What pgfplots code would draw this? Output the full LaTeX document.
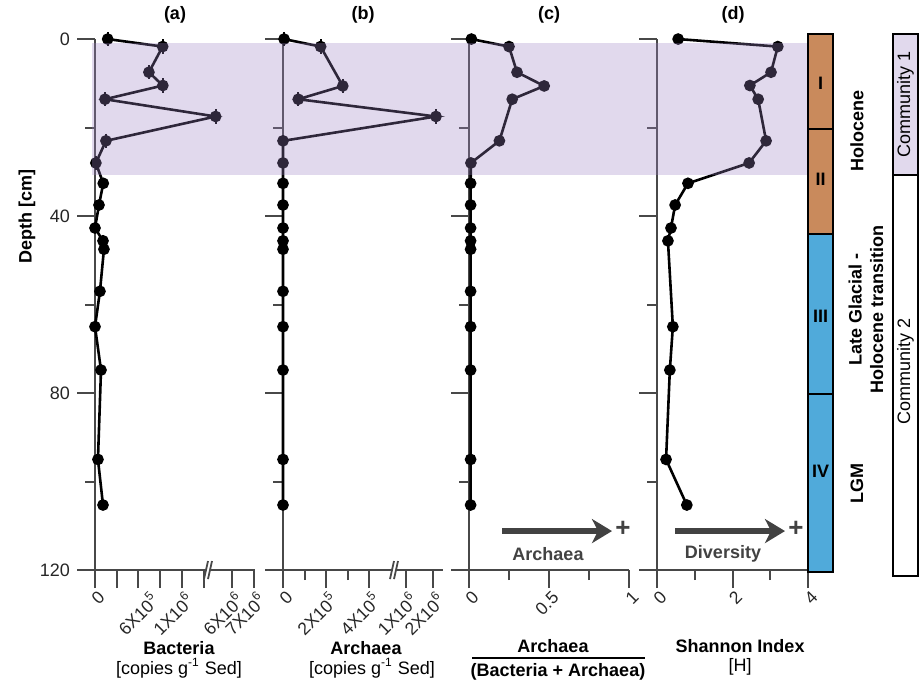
\documentclass[border=0pt]{standalone}
\usepackage{fontspec}
\setmainfont{Liberation Sans}
\usepackage{pgfplots}
\usepackage{pgfplotstable}
\pgfplotsset{compat=1.18}
\usetikzlibrary{arrows.meta}

\definecolor{zoneshade}{RGB}{155,130,195}
\definecolor{unitbrown}{RGB}{201,138,92}
\definecolor{unitblue}{RGB}{80,170,218}
\definecolor{arrowgray}{RGB}{66,66,66}
\definecolor{axisgray}{RGB}{72,72,72}

\newcommand{\lbl}{\fontsize{9}{10.8}\selectfont}
\newcommand{\tlbl}{\fontsize{8.8}{10.5}\selectfont}
\newcommand{\sci}[2]{#1X10\textsuperscript{#2}}

% Bacteria, 16S copies per g sediment, in units of 1e5
\pgfplotstableread{
depth  val
0      1.46
1.7    7.78
7.5    6.2
10.5   7.8
13.6   1.15
17.5   52.6
23     1.26
28     0.1
32.6   0.95
37.5   0.46
42.7   0.0
45.6   0.92
47.5   1.03
57     0.57
65     0.0
74.8   0.69
95     0.34
105.3  0.92
}\bacteria

% Archaea, copies per g sediment, in units of 1e5
\pgfplotstableread{
depth  val
0      0.05
1.7    1.75
10.6   2.78
13.6   0.71
17.5   21.1
23     0.0
28     0.0
32.6   0.0
37.5   0.0
42.7   0.0
45.6   0.0
47.5   0.0
57     0.0
65     0.0
74.8   0.0
95     0.0
105.3  0.0
}\archaea

% Archaea / (Bacteria + Archaea)
\pgfplotstableread{
depth  val
0      0.015
1.7    0.25
7.5    0.30
10.6   0.47
13.6   0.27
23     0.19
28     0.012
32.6   0.01
37.5   0.01
42.7   0.01
45.6   0.01
47.5   0.01
57     0.01
65     0.01
74.8   0.01
95     0.01
105.3  0.01
}\ratio

% Shannon diversity index H
\pgfplotstableread{
depth  val
0      0.56
1.7    3.20
7.5    3.02
10.5   2.46
13.6   2.68
23     2.89
28     2.44
32.6   0.82
37.5   0.48
42.7   0.37
45.6   0.29
65     0.42
74.8   0.34
95     0.24
105.3  0.79
}\shannon

\pgfplotsset{
  profile/.style={
    scale only axis, height=265.5pt, anchor=west,
    ymin=0, ymax=120, y dir=reverse,
    axis x line=bottom, axis y line=left,
    axis line style={axisgray, line width=1pt, -},
    ytick={0,40,80,120}, minor ytick={20,60,100}, yticklabels={},
    tick align=outside, major tick length=9pt, minor tick length=5pt,
    tick style={axisgray, line width=1pt},
    tick label style={font=\tlbl, text=black!85},
    yticklabel style={font=\lbl},
    xticklabel style={rotate=45, anchor=north east, inner sep=1pt, xshift=1.5pt},
    xticklabel shift=0.5pt,
    clip=false,
  },
  series/.style={black, line width=1.3pt, mark=*, mark size=2.25pt, mark options={solid}},
  caps/.style={only marks, black, mark=|, mark size=3.6pt, line width=1pt},
}

\begin{document}
\begin{tikzpicture}
\begin{scope}[x=0.5pt,y=-0.5pt]
\useasboundingbox (0,0) rectangle (921,681);
\end{scope}

% (a) Bacteria, broken x axis
\begin{axis}[profile, at={(47.5pt,-151.75pt)}, width=80pt,
  x coord trafo/.code={\pgfmathparse{((#1)<30)*8.7*(#1)+((#1)>30)*(137+2.2*((#1)-60))}},
  xmin=0, xmax=70.5,
  xtick={0,2.5,5,7.5,10,12.5,60,70},
  xticklabels={0,,,,\sci{1}{6},,\sci{6}{6},\sci{7}{6}},
  extra x ticks={6}, extra x tick labels={\sci{6}{5}},
  extra x tick style={major tick style={draw=none}},
  yticklabels={0,40,80,120},
  yticklabel style={anchor=east},
]
\addplot[caps, restrict y to domain=-1:29] table[x=val, y=depth] {\bacteria};
\addplot[series] table[x=val, y=depth] {\bacteria};
\end{axis}

% (b) Archaea, broken x axis
\begin{axis}[profile, at={(141.5pt,-151.75pt)}, width=80pt,
  x coord trafo/.code={\pgfmathparse{((#1)<7)*21.5*(#1)+((#1)>7)*(123+2.7*((#1)-10))}},
  xmin=0, xmax=23.7,
  xtick={0,2,4,10,20}, minor xtick={1,3},
  xticklabels={0,\sci{2}{5},\sci{4}{5},\sci{1}{6},\sci{2}{6}},
]
\addplot[caps, restrict y to domain=-1:18] table[x=val, y=depth] {\archaea};
\addplot[series] table[x=val, y=depth] {\archaea};
\end{axis}

% (c) archaeal fraction
\begin{axis}[profile, at={(234.5pt,-151.75pt)}, width=80pt,
  xmin=0, xmax=1, xtick={0,0.5,1}, minor xtick={0.25,0.75},
  xticklabels={0,0.5,1},
]
\addplot[series] table[x=val, y=depth] {\ratio};
\end{axis}

% (d) Shannon index
\begin{axis}[profile, at={(328.5pt,-151.75pt)}, width=75.5pt,
  xmin=0, xmax=4, xtick={0,2,4}, minor xtick={1,3},
  xticklabels={0,2,4},
]
\addplot[series] table[x=val, y=depth] {\shannon};
\end{axis}

\begin{scope}[x=0.5pt,y=-0.5pt]
% Holocene community zone
\fill[zoneshade, fill opacity=0.3] (92,41.5) rectangle (808,174);

% axis breaks
\foreach \bx in {208,394}{
  \fill[white] (\bx-4,578) -- (\bx,560) -- (\bx+4,560) -- (\bx,578) -- cycle;
  \draw[axisgray, line width=0.9pt] (\bx-4,578) -- (\bx,560) (\bx,578) -- (\bx+4,560);
}

% lithological units
\draw[line width=1pt, fill=unitbrown] (808,33) rectangle (833,128);
\draw[line width=1pt, fill=unitbrown] (808,128) rectangle (833,233);
\draw[line width=1pt, fill=unitblue] (808,233) rectangle (833,393);
\draw[line width=1pt, fill=unitblue] (808,393) rectangle (833,571);
\node[font=\lbl\bfseries] at (820.5,82) {I};
\node[font=\lbl\bfseries] at (820.5,178) {II};
\node[font=\lbl\bfseries] at (820.5,315) {III};
\node[font=\lbl\bfseries] at (820.5,470) {IV};

\node[rotate=90, font=\lbl\bfseries] at (857,130) {Holocene};
\node[rotate=90, font=\lbl\bfseries, align=center] at (866,308) {Late Glacial -\\Holocene transition};
\node[rotate=90, font=\lbl\bfseries] at (857,482) {LGM};

% communities
\draw[line width=1pt, fill=zoneshade!30] (893,33) rectangle (918,174);
\draw[line width=1pt, fill=white] (893,174) rectangle (918,575);
\node[rotate=90, font=\lbl] at (905.5,103) {Community 1};
\node[rotate=90, font=\lbl] at (905.5,370) {Community 2};

% panel titles
\node[font=\lbl\bfseries] at (175,14) {(a)};
\node[font=\lbl\bfseries] at (363,14) {(b)};
\node[font=\lbl\bfseries] at (549,14) {(c)};
\node[font=\lbl\bfseries] at (733,14) {(d)};

% axis titles
\node[rotate=90, font=\lbl\bfseries] at (27,215) {Depth [cm]};
\node[font=\lbl\bfseries] at (179,647) {Bacteria};
\node[font=\lbl] at (179,667) {[copies g\textsuperscript{-1} Sed]};
\node[font=\lbl\bfseries] at (366,647) {Archaea};
\node[font=\lbl] at (372,667) {[copies g\textsuperscript{-1} Sed]};
\node[font=\lbl\bfseries] at (553,645) {Archaea};
\draw[line width=0.9pt] (472,657) -- (645,657);
\node[font=\lbl\bfseries] at (558,671) {(Bacteria + Archaea)};
\node[font=\lbl\bfseries] at (740,645) {Shannon Index};
\node[font=\lbl] at (740,666) {[H]};

% direction arrows
\draw[arrowgray, line width=3.3pt, -{Stealth[length=10pt, width=12pt, inset=3pt]}] (502,530) -- (612,530);
\node[text=arrowgray, font=\fontsize{13}{14}\selectfont\bfseries] at (623,528) {+};
\node[text=arrowgray, font=\lbl\bfseries] at (548,553) {Archaea};
\draw[arrowgray, line width=3.3pt, -{Stealth[length=10pt, width=12pt, inset=3pt]}] (675,530) -- (785,530);
\node[text=arrowgray, font=\fontsize{13}{14}\selectfont\bfseries] at (796,528) {+};
\node[text=arrowgray, font=\lbl\bfseries] at (723,553) {Diversity};
\end{scope}
\end{tikzpicture}
\end{document}
